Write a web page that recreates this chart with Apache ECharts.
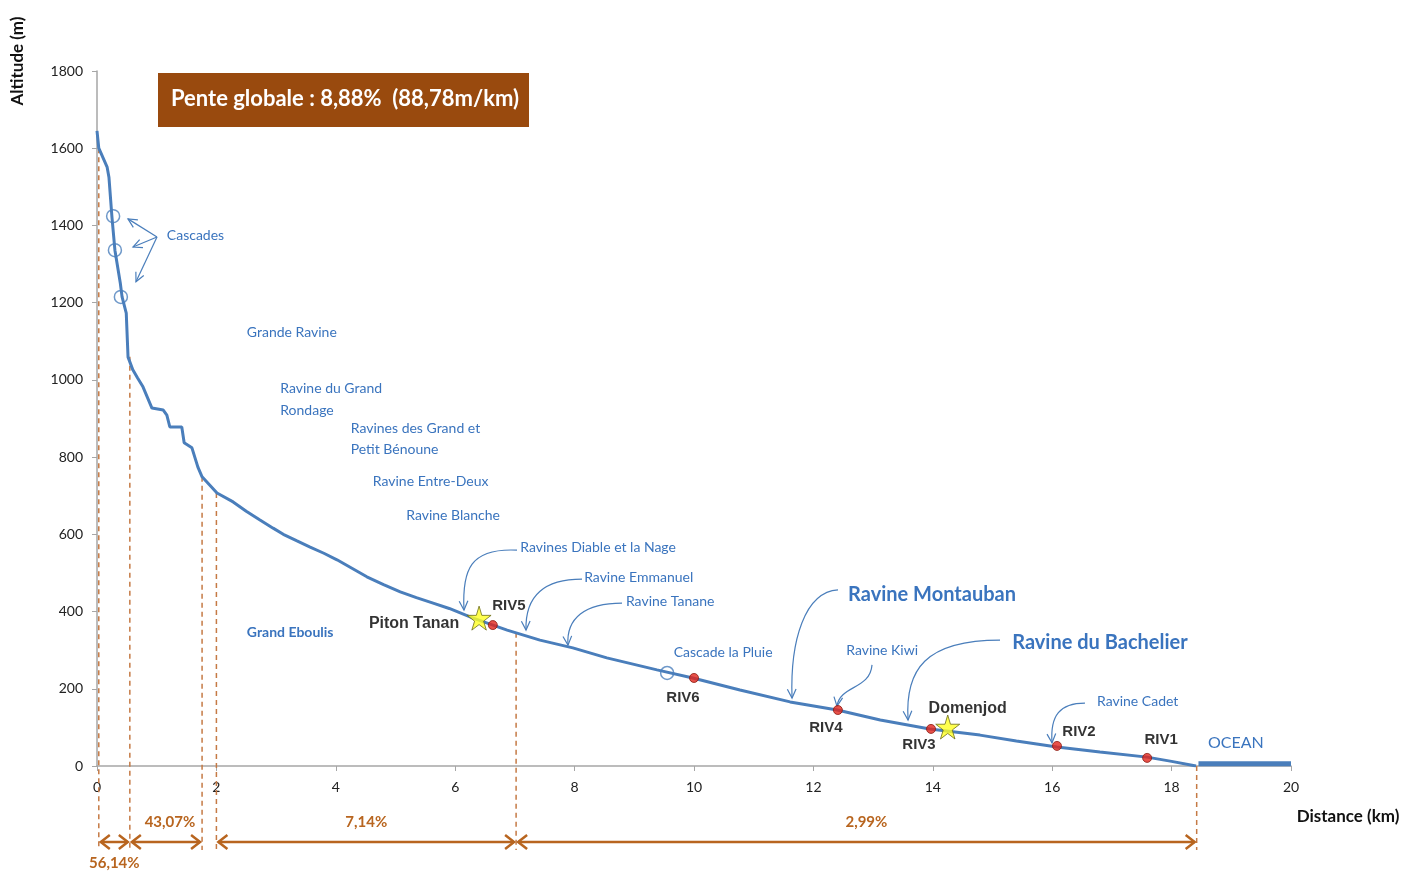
<!DOCTYPE html>
<html>
<head>
<meta charset="utf-8">
<title>Profil en long</title>
<script src="https://cdn.jsdelivr.net/npm/echarts@6/dist/echarts.min.js"></script>
<style>
  html, body { margin: 0; padding: 0; background: #fff; }
  #chart { width: 1417px; height: 872px; }
</style>
</head>
<body>
<div id="chart"></div>
<script>
// Profil en long de la rivière : distance (km) / altitude (m)
const distKm = [0, 0.03, 0.17, 0.2, 0.25, 0.3, 0.39, 0.42, 0.49, 0.52, 0.6, 0.68, 0.77, 0.92, 1.11, 1.17, 1.22, 1.42, 1.46, 1.59, 1.69, 1.76, 2.01, 2.28, 2.5, 2.73, 2.95, 3.12, 3.35, 3.57, 3.8, 4.02, 4.27, 4.52, 4.8, 5.08, 5.35, 5.63, 5.9, 6.3, 6.87, 7.42, 7.97, 8.54, 9.38, 9.98, 10.77, 11.61, 12.4, 13.12, 13.95, 14.79, 15.4, 16.08, 16.8, 17.59, 18.0, 18.41]
const altM = [1645, 1600, 1551, 1525, 1422, 1336, 1251, 1215, 1173, 1059, 1026, 1005, 982, 927, 922, 909, 878, 878, 837, 824, 774, 749, 707, 684, 660, 637, 616, 600, 583, 567, 551, 534, 512, 490, 470, 451, 436, 422, 408, 383, 352, 326, 306, 280, 249, 228, 197, 166, 145, 119, 96, 80, 65, 49, 36, 23, 12, 0]

const oceanKm = [18.45, 20]
const oceanAlt = [6, 6]

// stations RIV
const rivNames = ['RIV5', 'RIV6', 'RIV4', 'RIV3', 'RIV2', 'RIV1']
const rivKm = [6.63, 10.0, 12.41, 13.97, 16.08, 17.59]
const rivAlt = [365, 228, 145, 96, 52, 21]

// lieux remarquables (étoiles)
const starNames = ['Piton Tanan', 'Domenjod']
const starKm = [6.4, 14.25]
const starAlt = [383, 101]

// cascades
const cascadeKm = [0.27, 0.3, 0.4, 9.55]
const cascadeAlt = [1424, 1336, 1215, 241]

// limites des tronçons et pentes moyennes
const boundKm = [0.03, 0.55, 1.76, 2.0, 7.02, 18.42]
const boundAlt = [1600, 1060, 749, 707, 345, 0]
const slopeFrom = [0.03, 0.55, 2.0, 7.02]
const slopeTo = [0.55, 1.76, 7.02, 18.42]
const slopeLabels = ['56,14%', '43,07%', '7,14%', '2,99%']

// affluents et annotations
const labelNames = ['Cascades', 'Grande Ravine', 'Ravine du Grand', 'Rondage', 'Ravines des Grand et', 'Petit Bénoune',
  'Ravine Entre-Deux', 'Ravine Blanche', 'Ravines Diable et la Nage', 'Ravine Emmanuel', 'Ravine Tanane',
  'Cascade la Pluie', 'Ravine Kiwi', 'Ravine Cadet', 'OCEAN', 'Grand Eboulis', 'Ravine Montauban', 'Ravine du Bachelier']
const labelKm = [1.17, 2.51, 3.07, 3.07, 4.25, 4.25, 4.62, 5.18, 7.09, 8.16, 8.86, 9.66, 12.55, 16.75, 18.61, 2.51, 12.58, 15.33]
const labelAlt = [1373, 1124, 979, 922, 875, 821, 738, 648, 567, 487, 425, 295, 298, 166, 60, 347, 443, 321]

// flèches vers les confluences (départ, contrôle 1, contrôle 2, pointe) en km / m
const pointerPaths = [
  [[1.005, 1370], [0.519, 1417]],
  [[1.005, 1370], [0.603, 1344]],
  [[1.005, 1370], [0.653, 1254]],
  [[7.035, 559], [6.248, 565], [6.114, 508], [6.147, 404]],
  [[8.124, 484], [7.504, 484], [7.169, 443], [7.186, 352]],
  [[8.794, 422], [8.174, 422], [7.856, 383], [7.889, 313]],
  [[12.412, 456], [11.859, 451], [11.608, 326], [11.642, 176]],
  [[12.982, 262], [12.948, 197], [12.446, 210], [12.395, 155]],
  [[15.126, 326], [13.869, 326], [13.534, 249], [13.585, 119]],
  [[16.549, 163], [16.131, 163], [15.963, 132], [15.997, 60]]
]

const BLUE = '#4a7ebb'
const TEXT_BLUE = '#3a74be'
const BROWN = '#b8651f'

const labelOffsets = {
  RIV5: [16, -19], RIV6: [-11, 20], RIV4: [-12, 18], RIV3: [-12, 16], RIV2: [22, -14], RIV1: [14, -18],
  'Piton Tanan': [-65, 5], Domenjod: [20, -18]
}

const STAR = 'path://M50,0 L61,35 L98,35 L68,57 L79,91 L50,70 L21,91 L32,57 L2,35 L39,35 Z'

const labelFont = (name) => {
  if (name === 'Ravine Montauban' || name === 'Ravine du Bachelier') return 'bold 20px Lato'
  if (name === 'Grand Eboulis') return 'bold 14px Lato'
  if (name === 'OCEAN') return '16px Lato'
  return '14px Lato'
}

const chart = echarts.init(document.getElementById('chart'))

const option = {
  animation: false,
  grid: { left: 97, right: 126, top: 71, bottom: 106 },
  xAxis: {
    type: 'value', min: 0, max: 20, interval: 2,
    axisLine: { lineStyle: { color: '#a6a6a6', width: 1.5 } },
    axisTick: { show: true, length: 5, lineStyle: { color: '#a6a6a6' } },
    splitLine: { show: false },
    axisLabel: { color: '#222', fontFamily: 'Lato', fontSize: 14, margin: 14, formatter: v => String(v) }
  },
  yAxis: {
    type: 'value', min: 0, max: 1800, interval: 200,
    axisLine: { show: true, lineStyle: { color: '#a6a6a6', width: 1.5 } },
    axisTick: { show: true, length: 5, lineStyle: { color: '#a6a6a6' } },
    splitLine: { show: false },
    axisLabel: { color: '#222', fontFamily: 'Lato', fontSize: 14, margin: 14, formatter: v => String(v) }
  },
  graphic: [
    { type: 'rect', shape: { x: 158, y: 73, width: 371, height: 54 }, style: { fill: '#994a0e' } },
    {
      type: 'text', x: 345, y: 99,
      style: { text: 'Pente globale : 8,88%  (88,78m/km)', fill: '#fff', font: 'bold 22px Lato', align: 'center', verticalAlign: 'middle' }
    },
    {
      type: 'text', x: 18, y: 61, rotation: Math.PI / 2,
      style: { text: 'Altitude (m)', fill: '#111', font: 'bold 17px Lato', align: 'center', verticalAlign: 'middle' }
    },
    {
      type: 'text', x: 1348, y: 817,
      style: { text: 'Distance (km)', fill: '#111', font: 'bold 17px Lato', align: 'center', verticalAlign: 'middle' }
    }
  ],
  series: [
    {
      // limites des tronçons (pointillés)
      type: 'custom', z: 1, clip: false,
      data: boundKm.map((x, i) => [x, boundAlt[i]]),
      renderItem: (params, api) => {
        const i = params.dataIndex
        const top = api.coord([boundKm[i], boundAlt[i]])
        const base = api.coord([boundKm[i], 0])
        return {
          type: 'line',
          shape: { x1: top[0], y1: top[1], x2: top[0], y2: base[1] + 84 },
          style: { stroke: '#c57a45', lineWidth: 1.5, lineDash: [5, 4] }
        }
      }
    },
    {
      // pentes par tronçon
      type: 'custom', z: 1, clip: false,
      data: slopeFrom.map((x, i) => [x, 0]),
      renderItem: (params, api) => {
        const i = params.dataIndex
        const a = api.coord([slopeFrom[i], 0])
        const b = api.coord([slopeTo[i], 0])
        const y = a[1] + 76
        const x1 = a[0] + 2, x2 = b[0] - 2
        const st = { stroke: BROWN, lineWidth: 2.5, fill: 'none' }
        return {
          type: 'group',
          children: [
            { type: 'line', shape: { x1, y1: y, x2, y2: y }, style: st },
            { type: 'polyline', shape: { points: [[x1 + 9, y - 7], [x1, y], [x1 + 9, y + 7]] }, style: st },
            { type: 'polyline', shape: { points: [[x2 - 9, y - 7], [x2, y], [x2 - 9, y + 7]] }, style: st },
            {
              type: 'text', x: (x1 + x2) / 2 + (i === 1 ? 4 : i === 3 ? 10 : 0), y: i === 0 ? a[1] + 97 : a[1] + 56,
              style: { text: slopeLabels[i], fill: BROWN, font: 'bold 15px Lato', align: 'center', verticalAlign: 'middle' }
            }
          ]
        }
      }
    },
    {
      name: 'Profil', type: 'line', z: 3,
      data: distKm.map((x, i) => [x, altM[i]]),
      symbol: 'none',
      lineStyle: { color: BLUE, width: 3 }
    },
    {
      name: 'Océan', type: 'line', z: 3,
      data: oceanKm.map((x, i) => [x, oceanAlt[i]]),
      symbol: 'none',
      lineStyle: { color: BLUE, width: 5 }
    },
    {
      // flèches des affluents
      type: 'custom', z: 4, clip: false,
      data: pointerPaths.map(p => p[p.length - 1]),
      renderItem: (params, api) => {
        const pts = pointerPaths[params.dataIndex].map(p => api.coord(p))
        const end = pts[pts.length - 1]
        const prev = pts[pts.length - 2]
        const ang = Math.atan2(end[1] - prev[1], end[0] - prev[0])
        const L = 10
        const head = [
          [end[0] - L * Math.cos(ang - 0.45), end[1] - L * Math.sin(ang - 0.45)],
          end,
          [end[0] - L * Math.cos(ang + 0.45), end[1] - L * Math.sin(ang + 0.45)]
        ]
        const st = { stroke: BLUE, lineWidth: 1.2, fill: 'none' }
        const body = pts.length === 2
          ? { type: 'line', shape: { x1: pts[0][0], y1: pts[0][1], x2: end[0], y2: end[1] }, style: st }
          : {
              type: 'bezierCurve',
              shape: { x1: pts[0][0], y1: pts[0][1], cpx1: pts[1][0], cpy1: pts[1][1], cpx2: pts[2][0], cpy2: pts[2][1], x2: end[0], y2: end[1] },
              style: st
            }
        return { type: 'group', children: [body, { type: 'polyline', shape: { points: head }, style: st }] }
      }
    },
    {
      // noms des affluents
      type: 'custom', z: 4, clip: false,
      data: labelKm.map((x, i) => [x, labelAlt[i]]),
      renderItem: (params, api) => {
        const i = params.dataIndex
        const p = api.coord([labelKm[i], labelAlt[i]])
        return {
          type: 'text', x: p[0], y: p[1],
          style: { text: labelNames[i], fill: TEXT_BLUE, font: labelFont(labelNames[i]), align: 'left', verticalAlign: 'middle' }
        }
      }
    },
    {
      name: 'Cascades', type: 'scatter', z: 5,
      data: cascadeKm.map((x, i) => [x, cascadeAlt[i]]),
      symbol: 'circle', symbolSize: 13,
      itemStyle: { color: 'rgba(0,0,0,0)', borderColor: BLUE, borderWidth: 1.5 }
    },
    {
      name: 'Stations', type: 'scatter', z: 6,
      data: rivNames.map((n, i) => ({
        name: n, value: [rivKm[i], rivAlt[i]],
        label: { offset: labelOffsets[n] }
      })),
      symbol: 'circle', symbolSize: 9,
      itemStyle: { color: '#e2261b', borderColor: '#8b1a10', borderWidth: 1 },
      label: {
        show: true, position: 'inside', formatter: '{b}',
        color: '#000', fontFamily: 'Liberation Sans', fontWeight: 'bold', fontSize: 15
      }
    },
    {
      name: 'Lieux', type: 'scatter', z: 6,
      data: starNames.map((n, i) => ({
        name: n, value: [starKm[i], starAlt[i]],
        label: { offset: labelOffsets[n] }
      })),
      symbol: STAR, symbolSize: 24,
      itemStyle: { color: '#ffff22', borderColor: '#6d6d1a', borderWidth: 1 },
      label: {
        show: true, position: 'inside', formatter: '{b}',
        color: '#000', fontFamily: 'Liberation Sans', fontWeight: 'bold', fontSize: 16
      }
    }
  ]
}

chart.setOption(option)
window.addEventListener('resize', () => chart.resize())
</script>
</body>
</html>
